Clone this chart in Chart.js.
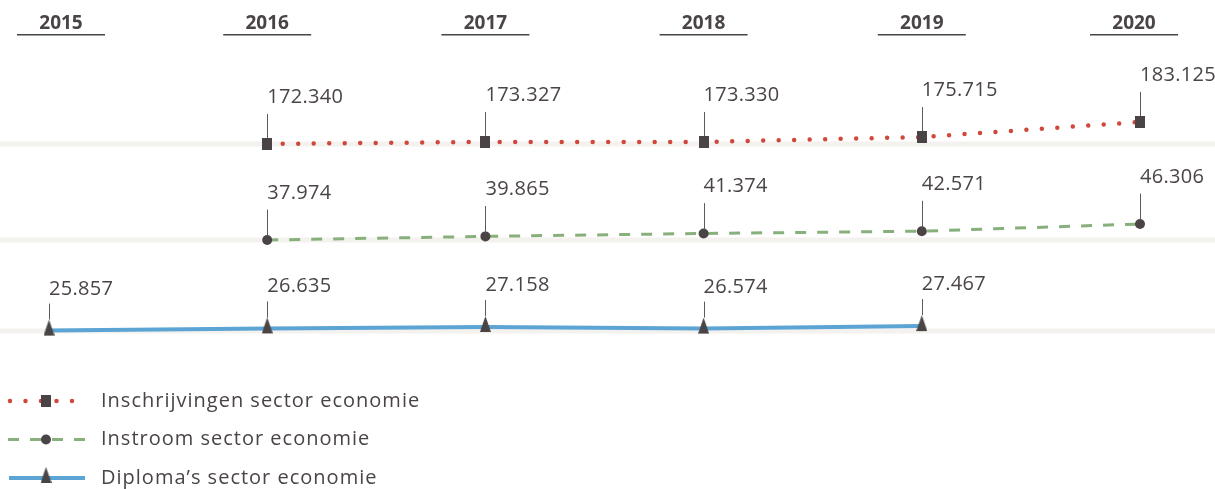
<!DOCTYPE html>
<html>
<head>
<meta charset="utf-8">
<script src="https://cdn.jsdelivr.net/npm/chart.js@4.4.1/dist/chart.umd.min.js"></script>
<style>
  html, body { margin: 0; background: #fff; }
  #wrap { width: 1215px; height: 489px; position: relative; }
</style>
</head>
<body>
<div id="wrap"><canvas id="chart"></canvas></div>
<script>
const years = ['2015', '2016', '2017', '2018', '2019', '2020'];
const inschrijvingen = [null, 172340, 173327, 173330, 175715, 183125];
const instroom = [null, 37974, 39865, 41374, 42571, 46306];
const diplomas = [25857, 26635, 27158, 26574, 27467, null];

const dark = '#4a4446';

function fmt(n) {
  return String(n).replace(/\B(?=(\d{3})+(?!\d))/g, '.');
}

// marker shapes
function squareImg() {
  const c = document.createElement('canvas');
  c.width = 10; c.height = 12;
  const g = c.getContext('2d');
  g.fillStyle = dark;
  g.fillRect(0, 0, 10, 12);
  return c;
}
function triangleImg() {
  const c = document.createElement('canvas');
  c.width = 11; c.height = 22;
  const g = c.getContext('2d');
  g.fillStyle = dark;
  g.beginPath();
  g.moveTo(5.5, 0); g.lineTo(11, 16); g.lineTo(0, 16);
  g.closePath(); g.fill();
  return c;
}

const overlay = {
  id: 'overlay',
  beforeDatasetsDraw(chart) {
    const ctx = chart.ctx;
    const x = chart.scales.x;
    ctx.save();
    // grey baselines at each series' first value
    chart.data.datasets.forEach((ds) => {
      const first = ds.data.find(v => v !== null);
      const y = chart.scales[ds.yAxisID].getPixelForValue(first);
      ctx.fillStyle = '#f4f2ef';
      ctx.fillRect(0, Math.round(y) - 2.5, chart.width, 5);
    });
    // year headers
    ctx.font = '700 19px "Open Sans"';
    ctx.fillStyle = dark;
    ctx.textAlign = 'center';
    ctx.textBaseline = 'alphabetic';
    years.forEach((yr, i) => {
      const cx = Math.max(61, Math.min(1134, x.getPixelForValue(i)));
      ctx.fillText(yr, cx, 29);
      ctx.fillRect(cx - 44, 34, 88, 1.5);
    });
    ctx.restore();
  },
  afterDatasetsDraw(chart) {
    const ctx = chart.ctx;
    ctx.save();
    chart.data.datasets.forEach((ds, di) => {
      const meta = chart.getDatasetMeta(di);
      meta.data.forEach((pt, i) => {
        const v = ds.data[i];
        if (v === null) return;
        ctx.strokeStyle = '#5e595b';
        ctx.lineWidth = 1;
        ctx.beginPath();
        ctx.moveTo(Math.round(pt.x) + 0.5, pt.y - ds.tickTop);
        ctx.lineTo(Math.round(pt.x) + 0.5, pt.y - ds.tickBottom);
        ctx.stroke();
        ctx.font = '20px "Open Sans"';
        ctx.letterSpacing = '0.3px';
        ctx.fillStyle = dark;
        ctx.textAlign = 'left';
        ctx.textBaseline = 'alphabetic';
        ctx.fillText(fmt(v), pt.x, pt.y - ds.labelOffset);
      });

      // legend
      const ly = 401 + di * 38.5;
      ctx.strokeStyle = ds.borderColor;
      ctx.lineWidth = ds.borderWidth;
      ctx.lineCap = ds.borderCapStyle || 'butt';
      ctx.setLineDash(ds.borderDash || []);
      ctx.beginPath();
      ctx.moveTo(ds.legendStart, ly);
      ctx.lineTo(85, ly);
      ctx.stroke();
      ctx.setLineDash([]);
      ctx.fillStyle = dark;
      Chart.helpers.drawPoint(ctx, {
        pointStyle: ds.pointStyle, radius: ds.pointRadius, rotation: 0, borderWidth: 0
      }, 46, ly);
      ctx.font = '20px "Open Sans"';
      ctx.letterSpacing = '1px';
      ctx.fillStyle = dark;
      ctx.textAlign = 'left';
      ctx.textBaseline = 'middle';
      ctx.fillText(ds.label, 101, ly);
    });
    ctx.restore();
  }
};

new Chart(document.getElementById('chart'), {
  type: 'line',
  data: {
    labels: years,
    datasets: [
      {
        label: 'Inschrijvingen sector economie',
        data: inschrijvingen,
        yAxisID: 'y1',
        borderColor: '#d0473c',
        borderWidth: 4.5,
        borderDash: [0, 15.5],
        borderCapStyle: 'round',
        pointStyle: squareImg(),
        pointRadius: 6,
        pointBackgroundColor: dark,
        pointBorderWidth: 0,
        labelOffset: 41, tickTop: 30, tickBottom: 6, legendStart: 10
      },
      {
        label: 'Instroom sector economie',
        data: instroom,
        yAxisID: 'y2',
        borderColor: '#88b07c',
        borderWidth: 3,
        borderDash: [11, 11],
        pointStyle: 'circle',
        pointRadius: 5,
        pointBackgroundColor: dark,
        pointBorderWidth: 0,
        labelOffset: 41, tickTop: 30, tickBottom: 4, legendStart: 8
      },
      {
        label: 'Diploma\u2019s sector economie',
        data: diplomas,
        yAxisID: 'y3',
        borderColor: '#5ba4d4',
        borderWidth: 4,
        pointStyle: triangleImg(),
        pointRadius: 8,
        pointBackgroundColor: dark,
        pointBorderWidth: 0,
        labelOffset: 36, tickTop: 27, tickBottom: 11, legendStart: 9
      }
    ]
  },
  options: {
    responsive: true,
    maintainAspectRatio: false,
    animation: false,
    clip: false,
    layout: { autoPadding: false, padding: { left: 49, right: 75, top: 0, bottom: 0 } },
    plugins: { legend: { display: false }, tooltip: { enabled: false } },
    elements: { line: { tension: 0 } },
    scales: {
      x: { type: 'category', display: false, offset: false },
      y1: { type: 'linear', display: false, min: 3200, max: 242900 },
      y2: { type: 'linear', display: false, min: -91700, max: 162970 },
      y3: { type: 'linear', display: false, min: -30700, max: 143900 }
    }
  },
  plugins: [overlay]
});
</script>
</body>
</html>
